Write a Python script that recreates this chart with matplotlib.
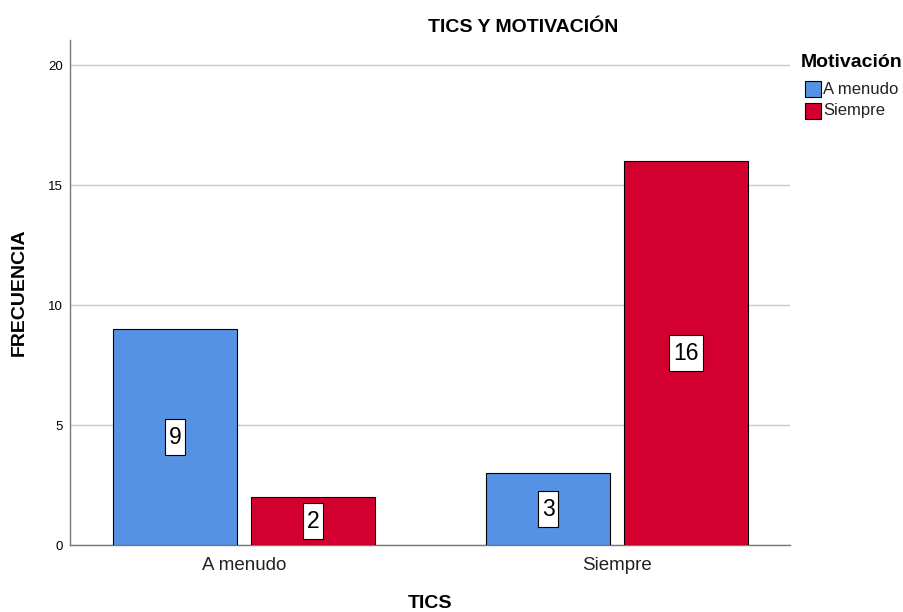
import matplotlib
matplotlib.use("Agg")
import matplotlib.pyplot as plt
from matplotlib.patches import Rectangle
from matplotlib.transforms import IdentityTransform

plt.rcParams['font.family'] = ['Liberation Sans', 'DejaVu Sans']

categories = ["A menudo", "Siempre"]
series_names = ["A menudo", "Siempre"]
a_menudo = [9, 3]
siempre = [2, 16]
colors = ["#5592E3", "#D3002F"]

W, H = 904, 612
fig = plt.figure(figsize=(W / 100, H / 100), dpi=100)
ax = fig.add_axes([70 / W, (H - 545) / H, 720 / W, 505 / H])

x = [0, 1]
width = 0.3324
off = 0.185
labels = []
for vals, c, sgn in [(a_menudo, colors[0], -1), (siempre, colors[1], 1)]:
    xs = [xi + sgn * off for xi in x]
    ax.bar(xs, vals, width=width, color=c, edgecolor="black", linewidth=0.8, zorder=3)
    for xi, v in zip(xs, vals):
        t = ax.text(xi, v / 2, str(v), ha="center", va="center", fontsize=16.5, zorder=5)
        labels.append((t, xi, v / 2))

ax.set_xlim(-0.4665, 1.4638)
ax.set_ylim(0, 21.05)
ax.set_yticks([0, 5, 10, 15, 20])
ax.set_xticks(x)
ax.set_xticklabels(categories, fontsize=13.5, color="#222222")
ax.tick_params(axis="y", labelsize=9.5, length=0, pad=5)
ax.tick_params(axis="x", length=0, pad=9)
ax.yaxis.grid(True, color="#c8c8c8", linewidth=1, zorder=0)
for s in ["top", "right"]:
    ax.spines[s].set_visible(False)
for s in ["left", "bottom"]:
    ax.spines[s].set_color("#777777")
    ax.spines[s].set_linewidth(1)

# white boxes behind value labels
fig.canvas.draw()
renderer = fig.canvas.get_renderer()
for t, xd, yd in labels:
    bb = t.get_window_extent(renderer)
    cx, cy = ax.transData.transform((xd, yd))
    bw = bb.width + 8
    bh = 36
    r = Rectangle((cx - bw / 2, cy - bh / 2), bw, bh, transform=IdentityTransform(),
                  facecolor="white", edgecolor="black", linewidth=0.8, zorder=4)
    ax.add_artist(r)

fig.text(523 / W, 1 - 27.5 / H, "TICS Y MOTIVACIÓN", ha="center", va="center",
         fontsize=14, fontweight="bold")
fig.text(430 / W, 1 - 603 / H, "TICS", ha="center", va="center", fontsize=14, fontweight="bold")
fig.text(19 / W, 1 - 292 / H, "FRECUENCIA", ha="center", va="center", rotation=90,
         fontsize=14, fontweight="bold")

# legend
fig.text(801 / W, 1 - 67 / H, "Motivación", ha="left", va="baseline",
         fontsize=14, fontweight="bold")
for i, (name, c) in enumerate(zip(series_names, colors)):
    cy = 89 + 22 * i
    fig.patches.append(Rectangle((805 / W, 1 - (cy + 8) / H), 16 / W, 16 / H,
                                 transform=fig.transFigure, facecolor=c,
                                 edgecolor="black", linewidth=0.8))
    fig.text(823 / W, 1 - cy / H, name, ha="left", va="center", fontsize=12, color="#222222")

fig.savefig("out.png", dpi=100)
